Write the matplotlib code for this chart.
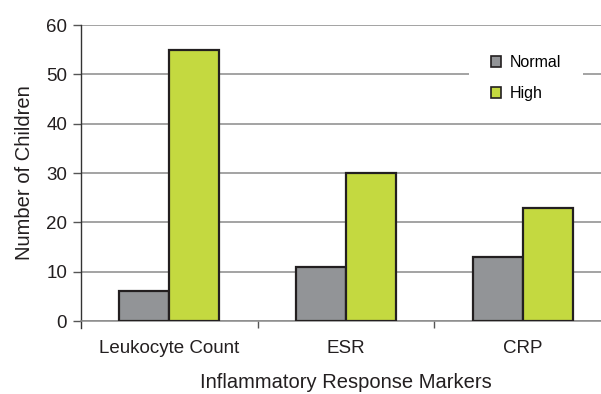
import matplotlib
matplotlib.use("Agg")
import matplotlib.pyplot as plt
from matplotlib.patches import Patch
import numpy as np

plt.rcParams['font.family'] = ['Liberation Sans', 'DejaVu Sans']

categories = ["Leukocyte Count", "ESR", "CRP"]
normal = [6, 11, 13]
high = [55, 30, 23]
series_labels = ["Normal", "High"]

c_normal = "#929497"
c_high = "#c4d940"
edge = "#231f20"
grid_c = "#8a8a8a"
text_c = "#231f20"

fig = plt.figure(figsize=(6.01, 3.94), dpi=100)
W, H = 601, 394
ax = fig.add_axes([81 / W, 1 - 321 / H, 530 / W, 296 / H])

x = np.arange(len(categories))
bw = 0.283
ax.bar(x - bw / 2, normal, bw, color=c_normal, edgecolor=edge, linewidth=1.6, zorder=3)
ax.bar(x + bw / 2, high, bw, color=c_high, edgecolor=edge, linewidth=1.6, zorder=3)

ax.set_xlim(-0.5, len(categories) - 0.5)
ax.set_ylim(0, 60)
ax.set_yticks(np.arange(0, 61, 10))
ax.yaxis.grid(True, color=grid_c, linewidth=1.1, zorder=0)
ax.set_axisbelow(True)

for s in ["top", "right"]:
    ax.spines[s].set_visible(False)
ax.spines["bottom"].set_color(grid_c)
ax.spines["bottom"].set_linewidth(1.1)
ax.spines["left"].set_color("#333333")
ax.spines["left"].set_linewidth(1.0)
ax.spines["left"].set_bounds(-1.4, 60)

ax.set_xticks(x)
ax.set_xticklabels(categories, fontsize=13.5, color=text_c)
ax.tick_params(axis="x", length=0, pad=14)
ax.set_xticks(np.arange(0.5, len(categories) - 0.5, 1), minor=True)
ax.tick_params(axis="x", which="minor", length=5, color="#555555", width=1)
ax.tick_params(axis="y", length=6, color="#555555", width=1, labelsize=13.5,
               labelcolor=text_c, pad=4)

ax.set_ylabel("Number of Children", fontsize=14.5, color=text_c, labelpad=9)
ax.set_xlabel("Inflammatory Response Markers", fontsize=14.5, color=text_c, labelpad=11)

handles = [Patch(facecolor=c_normal, edgecolor=edge, linewidth=1.2),
           Patch(facecolor=c_high, edgecolor=edge, linewidth=1.2)]
leg = ax.legend(handles, series_labels, loc="center", bbox_to_anchor=(526 / W, 1 - 78 / H),
                bbox_transform=fig.transFigure, fontsize=11.5, frameon=True,
                handlelength=0.62, handleheight=0.62, handletextpad=0.5,
                labelspacing=1.0, borderpad=1.4, borderaxespad=0)
leg.get_frame().set_facecolor("white")
leg.get_frame().set_edgecolor("none")
leg.get_frame().set_alpha(1)
leg.set_zorder(5)

fig.savefig("out.png", dpi=100)
